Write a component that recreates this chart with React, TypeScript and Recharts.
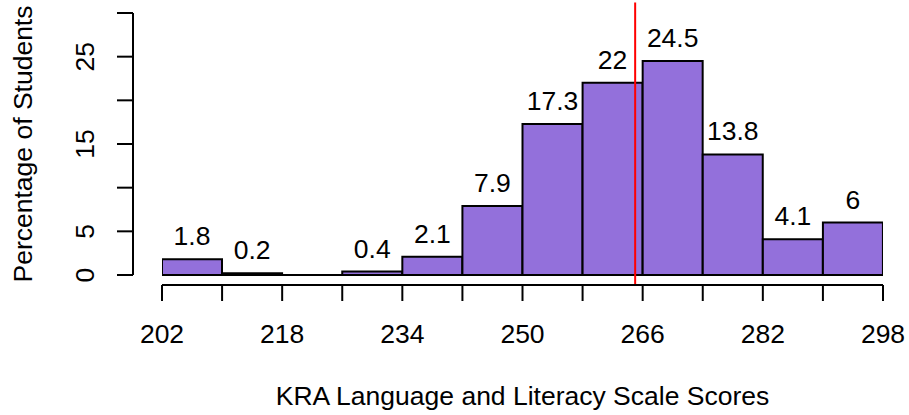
import React from 'react'
import { BarChart, Bar, XAxis, YAxis, ReferenceLine, LabelList, Label } from 'recharts'

// ── Data ───────────────────────────────────────────────────────────────────

const BIN_MIDS   = [206, 214, 222, 230, 238, 246, 254, 262, 270, 278, 286, 294]
const PERCENTS   = [1.8, 0.2, 0, 0.4, 2.1, 7.9, 17.3, 22, 24.5, 13.8, 4.1, 6]
const X_TICKS    = [202, 210, 218, 226, 234, 242, 250, 258, 266, 274, 282, 290, 298]
const X_LABELS   = [202, 218, 234, 250, 266, 282, 298]
const Y_TICKS    = [0, 5, 10, 15, 20, 25, 30]
const Y_LABELS   = [0, 5, 15, 25]
const MEAN_SCORE = 265

const data = BIN_MIDS.map((mid, i) => ({ mid, pct: PERCENTS[i] }))

const FONT = '"Liberation Sans", Arial, sans-serif'
const FS = 26.5

function XTick(props: any) {
  const { x, y, payload } = props
  if (!X_LABELS.includes(payload.value)) return null
  return (
    <text x={x} y={y + 42} textAnchor="middle" fontFamily={FONT} fontSize={FS} fill="#000">
      {payload.value}
    </text>
  )
}

function YTick(props: any) {
  const { x, y, payload } = props
  if (!Y_LABELS.includes(payload.value)) return null
  const cx = x - 33
  return (
    <text
      x={cx} y={y} dy="0.36em"
      transform={`rotate(-90 ${cx} ${y})`}
      textAnchor="middle" fontFamily={FONT} fontSize={FS} fill="#000"
    >
      {payload.value}
    </text>
  )
}

export default function App() {
  return (
    <div style={{ position: 'absolute', left: 0, top: 0, width: 909, height: 415, background: '#fff' }}>
      <BarChart
        width={909}
        height={415}
        data={data}
        margin={{ top: 13, right: 26, left: 0, bottom: 0 }}
        barCategoryGap={0}
        barGap={0}
      >
        {/* spacer axes keep the R-style gap between plot and axes */}
        <XAxis xAxisId="gap" height={10} tick={false} axisLine={false} tickLine={false} />
        <XAxis
          xAxisId="num" dataKey="mid" type="number" domain={[202, 298]} allowDataOverflow
          ticks={X_TICKS} interval={0} height={130}
          tickSize={16} tickMargin={0}
          axisLine={{ stroke: '#000', strokeWidth: 2 }}
          tickLine={{ stroke: '#000', strokeWidth: 2 }}
          tick={<XTick />}
        >
          <Label
            content={(p: any) => (
              <text
                x={p.viewBox.x + p.viewBox.width / 2} y={p.viewBox.y + 120}
                textAnchor="middle" fontFamily={FONT} fontSize={FS} fill="#000"
              >
                KRA Language and Literacy Scale Scores
              </text>
            )}
          />
        </XAxis>
        <YAxis yAxisId="gap" width={29} tick={false} axisLine={false} tickLine={false} />
        <YAxis
          yAxisId="vis" domain={[0, 30]} allowDataOverflow ticks={Y_TICKS} interval={0} width={133}
          tickSize={16} tickMargin={0}
          axisLine={{ stroke: '#000', strokeWidth: 2 }}
          tickLine={{ stroke: '#000', strokeWidth: 2 }}
          tick={<YTick />}
        >
          <Label
            content={(p: any) => {
              const cx = 22
              const cy = p.viewBox.y + p.viewBox.height / 2
              return (
                <text
                  x={cx} y={cy} dy="0.36em" transform={`rotate(-90 ${cx} ${cy})`}
                  textAnchor="middle" fontFamily={FONT} fontSize={FS} fill="#000"
                >
                  Percentage of Students
                </text>
              )
            }}
          />
        </YAxis>
        <ReferenceLine xAxisId="num" yAxisId="vis" y={0} stroke="#000" strokeWidth={2} />
        <Bar
          xAxisId="num" yAxisId="vis" dataKey="pct"
          fill="#9370DB" stroke="#000" strokeWidth={2}
          isAnimationActive={false}
        >
          <LabelList
            dataKey="pct" position="top" offset={14}
            formatter={(v: any) => (v === 0 ? '' : `${v}`)}
            style={{ fontFamily: FONT, fontSize: FS, fill: '#000' }}
          />
        </Bar>
        <ReferenceLine
          xAxisId="num" yAxisId="vis"
          segment={[{ x: MEAN_SCORE, y: 31.2 }, { x: MEAN_SCORE, y: -1.2 }]}
          ifOverflow="visible" stroke="#FF0000" strokeWidth={2}
        />
      </BarChart>
    </div>
  )
}
